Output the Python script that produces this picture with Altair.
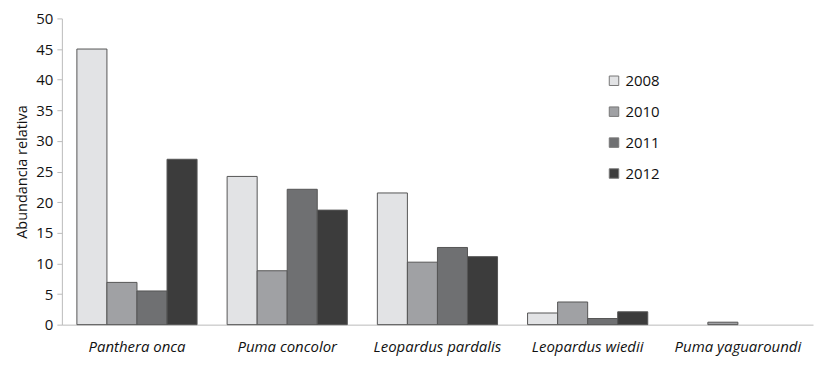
import altair as alt
import pandas as pd

species = ["Panthera onca", "Puma concolor", "Leopardus pardalis", "Leopardus wiedii", "Puma yaguaroundi"]
years = ["2008", "2010", "2011", "2012"]
v2008 = [45.0, 24.2, 21.5, 1.9, 0.0]
v2010 = [6.9, 8.8, 10.2, 3.7, 0.4]
v2011 = [5.5, 22.1, 12.6, 1.0, 0.0]
v2012 = [27.0, 18.7, 11.1, 2.1, 0.0]
colors = ["#e2e3e5", "#a0a1a4", "#6f7072", "#3c3c3c"]

rows = []
for yr, vals in zip(years, [v2008, v2010, v2011, v2012]):
    for sp, v in zip(species, vals):
        rows.append({"species": sp, "year": yr, "value": v})
df = pd.DataFrame(rows)

font = "Open Sans"

chart = alt.Chart(df).transform_filter("datum.value > 0").mark_bar(
    stroke="#555555", strokeWidth=1).encode(
    x=alt.X("species:N", sort=species, title=None,
            scale=alt.Scale(domain=species, paddingInner=0.2, paddingOuter=0.1),
            axis=alt.Axis(labelAngle=0, labelFontStyle="italic", labelFontSize=15,
                          labelFont=font, labelColor="#111", ticks=False,
                          domainColor="#bbbbbb", labelPadding=15)),
    xOffset=alt.XOffset("year:N", scale=alt.Scale(domain=years)),
    y=alt.Y("value:Q", title="Abundancia relativa",
            scale=alt.Scale(domain=[0, 50], nice=False),
            axis=alt.Axis(values=list(range(0, 51, 5)), grid=False, labelFontSize=15,
                          labelFont=font, labelColor="#111", domainColor="#bbbbbb",
                          tickColor="#bbbbbb", tickSize=5, labelPadding=4,
                          titleFont=font, titleFontSize=14.5, titleFontWeight="normal",
                          titleColor="#111", titlePadding=6)),
    fill=alt.Fill("year:N", title=None,
                  scale=alt.Scale(domain=years, range=colors),
                  legend=alt.Legend(orient="none", legendX=546, legendY=55,
                                    symbolType="square", symbolSize=90,
                                    symbolStrokeColor="#777777", symbolStrokeWidth=1,
                                    labelFontSize=15, labelFont=font, labelColor="#111",
                                    rowPadding=15, labelOffset=4)),
).properties(
    width=753, height=307,
    autosize=alt.AutoSizeParams(type="none"),
    padding={"left": 54, "top": 10, "right": 5, "bottom": 35},
).configure_view(stroke=None)

chart.save("out.html", embed_options={"renderer": "svg", "actions": False})
